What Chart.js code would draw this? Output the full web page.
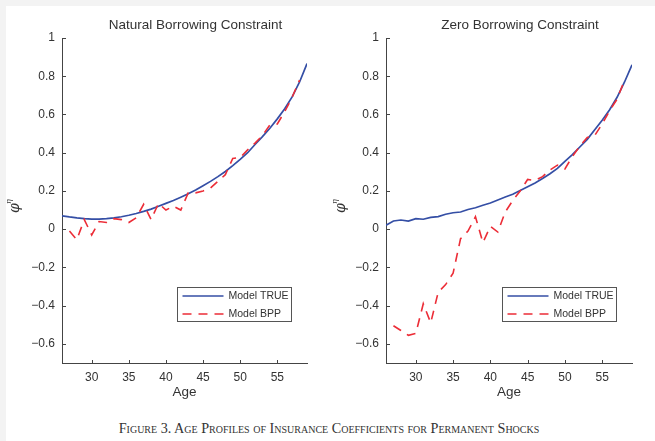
<!DOCTYPE html>
<html lang="en">
<head>
<meta charset="UTF-8">
<title>Insurance coefficients by age</title>
<script src="https://cdn.jsdelivr.net/npm/chart.js"></script>
<style>
  body {
    margin: 0;
    width: 655px;
    height: 441px;
    position: relative;
    overflow: hidden;
    background: #f3f3f3;
    font-family: 'Liberation Sans', Arial, sans-serif;
  }
  .paper {
    position: absolute;
    left: 6px; top: 6px; right: 0; bottom: 0;
    background: #fff;
  }
  .panel { position: absolute; top: 0; height: 400px; }
  #leftPanel { left: 0; width: 330px; }
  #rightPanel { left: 327px; width: 328px; }
  .caption {
    position: absolute;
    left: 0; width: 658px; top: 420px;
    text-align: center;
    font-family: 'Liberation Serif', 'Times New Roman', serif;
    font-variant: small-caps;
    font-size: 14.2px;
    color: #333;
  }
</style>
</head>
<body>
<div class="paper"></div>
<div class="panel" id="leftPanel"><canvas id="natChart" width="330" height="400"></canvas></div>
<div class="panel" id="rightPanel"><canvas id="zeroChart" width="328" height="400"></canvas></div>
<div class="caption">Figure 3. Age Profiles of Insurance Coefficients for Permanent Shocks</div>

<script>
const ages = [26, 27, 28, 29, 30, 31, 32, 33, 34, 35, 36, 37, 38, 39, 40, 41, 42,
              43, 44, 45, 46, 47, 48, 49, 50, 51, 52, 53, 54, 55, 56, 57, 58, 59];

// natural borrowing constraint
const natTrue = [0.070, 0.064, 0.059, 0.055, 0.053, 0.053, 0.055, 0.059, 0.065, 0.073,
                 0.082, 0.093, 0.105, 0.120, 0.135, 0.150, 0.167, 0.185, 0.205, 0.227,
                 0.250, 0.275, 0.302, 0.332, 0.365, 0.400, 0.443, 0.484, 0.528, 0.577,
                 0.630, 0.692, 0.770, 0.866];
const natBpp = [null, -0.010, -0.055, 0.050, -0.030, 0.040, 0.035, 0.055, 0.050, 0.035,
                0.060, 0.130, 0.050, 0.135, 0.100, 0.120, 0.100, 0.190, 0.190, 0.200,
                0.215, 0.250, 0.285, 0.370, 0.375, 0.415, 0.450, 0.490, 0.545, 0.550,
                0.615, 0.690, 0.780, null];

// zero borrowing constraint
const zeroTrue = [0.020, 0.043, 0.048, 0.042, 0.055, 0.052, 0.062, 0.066, 0.078, 0.086,
                  0.090, 0.103, 0.112, 0.125, 0.137, 0.153, 0.168, 0.183, 0.202, 0.222,
                  0.242, 0.265, 0.290, 0.318, 0.355, 0.390, 0.430, 0.470, 0.520, 0.570,
                  0.625, 0.690, 0.770, 0.860];
const zeroBpp = [null, -0.505, -0.530, -0.555, -0.545, -0.390, -0.490, -0.330, -0.290, -0.230,
                 -0.050, -0.010, 0.065, -0.070, 0.015, -0.015, 0.090, 0.150, 0.200, 0.260,
                 0.255, 0.275, 0.310, 0.335, 0.315, 0.380, 0.435, 0.480, 0.490, 0.550,
                 0.620, 0.680, 0.780, null];

const xTicks = [30, 35, 40, 45, 50, 55];
const yTicks = [-0.6, -0.4, -0.2, 0, 0.2, 0.4, 0.6, 0.8, 1];

const BLUE = 'rgb(52, 78, 165)';
const RED = 'rgb(236, 45, 55)';
const INK = '#333';

Chart.defaults.font.family = '"Liberation Sans", Arial, sans-serif';
Chart.defaults.color = INK;

function points(vals) {
  return ages.map((a, i) => ({ x: a, y: vals[i] }));
}

function fmtTick(v) {
  if (v === 0) return '0';
  const s = Math.abs(v).toFixed(1).replace(/\.0$/, '');
  return (v < 0 ? '\u2212' : '') + s;
}

// title, phi label, inward ticks and the boxed legend
const decor = {
  id: 'decor',
  afterDraw(chart, args, opts) {
    const { ctx, chartArea: a, scales: { x, y } } = chart;
    ctx.save();

    ctx.strokeStyle = '#444';
    ctx.lineWidth = 1;
    y.ticks.forEach(t => {
      const py = Math.round(y.getPixelForValue(t.value)) + 0.5;
      ctx.beginPath();
      ctx.moveTo(a.left, py);
      ctx.lineTo(a.left + 4, py);
      ctx.stroke();
    });
    x.ticks.forEach(t => {
      const px = Math.round(x.getPixelForValue(t.value)) + 0.5;
      ctx.beginPath();
      ctx.moveTo(px, a.bottom);
      ctx.lineTo(px, a.bottom - 3);
      ctx.stroke();
    });

    ctx.fillStyle = INK;
    ctx.font = '13.5px "Liberation Sans"';
    ctx.textAlign = 'center';
    ctx.textBaseline = 'middle';
    ctx.fillText(opts.title, (a.left + a.right) / 2 + 11, 25);

    ctx.save();
    ctx.translate(opts.phiX, 206);
    ctx.rotate(-Math.PI / 2);
    ctx.textAlign = 'left';
    ctx.textBaseline = 'alphabetic';
    ctx.font = 'italic 14px "DejaVu Serif"';
    ctx.fillText('\u03C6', -7, 4);
    ctx.font = 'italic 8px "DejaVu Serif"';
    ctx.fillText('\u03B7', 2, -4);
    ctx.restore();

    // legend box
    const w = 114, h = 34;
    const bx = Math.round(a.right - 16 - w) + 0.5;
    const by = Math.round(a.bottom - 42 - h) + 0.5;
    ctx.fillStyle = '#fff';
    ctx.fillRect(bx, by, w, h);
    ctx.strokeStyle = '#555';
    ctx.lineWidth = 1;
    ctx.strokeRect(bx, by, w, h);

    const rows = [chart.data.datasets[1], chart.data.datasets[0]];
    rows.forEach((ds, i) => {
      const ly = by + 8.5 + i * 18;
      ctx.beginPath();
      ctx.strokeStyle = ds.borderColor;
      ctx.lineWidth = ds.borderWidth;
      ctx.setLineDash(ds.borderDash || []);
      ctx.moveTo(bx + 5, ly);
      ctx.lineTo(bx + 46, ly);
      ctx.stroke();
      ctx.setLineDash([]);
      ctx.fillStyle = INK;
      ctx.font = '10.5px "Liberation Sans"';
      ctx.textAlign = 'left';
      ctx.textBaseline = 'middle';
      ctx.fillText(ds.label, bx + 51, ly + 0.5);
    });

    ctx.restore();
  }
};

function makeChart(id, title, trueVals, bppVals, axisWidth, phiX) {
  new Chart(document.getElementById(id), {
    type: 'line',
    data: {
      datasets: [
        {
          label: 'Model BPP',
          data: points(bppVals),
          borderColor: RED,
          borderWidth: 1.6,
          borderDash: [9, 7],
          pointRadius: 0,
          spanGaps: false
        },
        {
          label: 'Model TRUE',
          data: points(trueVals),
          borderColor: BLUE,
          borderWidth: 1.7,
          pointRadius: 0
        }
      ]
    },
    options: {
      responsive: false,
      animation: false,
      layout: { padding: { left: 0, top: 38, right: 23, bottom: 0 } },
      plugins: {
        legend: { display: false },
        tooltip: { enabled: false },
        decor: { title: title, phiX: phiX }
      },
      scales: {
        x: {
          type: 'linear',
          min: 26,
          max: 59,
          afterBuildTicks: s => { s.ticks = xTicks.map(v => ({ value: v })); },
          afterFit: s => { s.height = 37; },
          grid: { display: false, drawTicks: false },
          border: { display: true, color: '#444', width: 1 },
          ticks: { font: { size: 12 }, color: INK, padding: 7, maxRotation: 0 },
          title: { display: true, text: 'Age', font: { size: 13.5 }, color: INK, padding: 0 }
        },
        y: {
          type: 'linear',
          min: -0.7,
          max: 1,
          afterBuildTicks: s => { s.ticks = yTicks.map(v => ({ value: v })); },
          afterFit: s => { s.width = axisWidth; },
          grid: { display: false, drawTicks: false },
          border: { display: true, color: '#444', width: 1 },
          ticks: { font: { size: 12 }, color: INK, padding: 7, callback: fmtTick }
        }
      }
    },
    plugins: [decor]
  });
}

makeChart('natChart', 'Natural Borrowing Constraint', natTrue, natBpp, 62, 15);
makeChart('zeroChart', 'Zero Borrowing Constraint', zeroTrue, zeroBpp, 59, 14);
</script>
</body>
</html>
